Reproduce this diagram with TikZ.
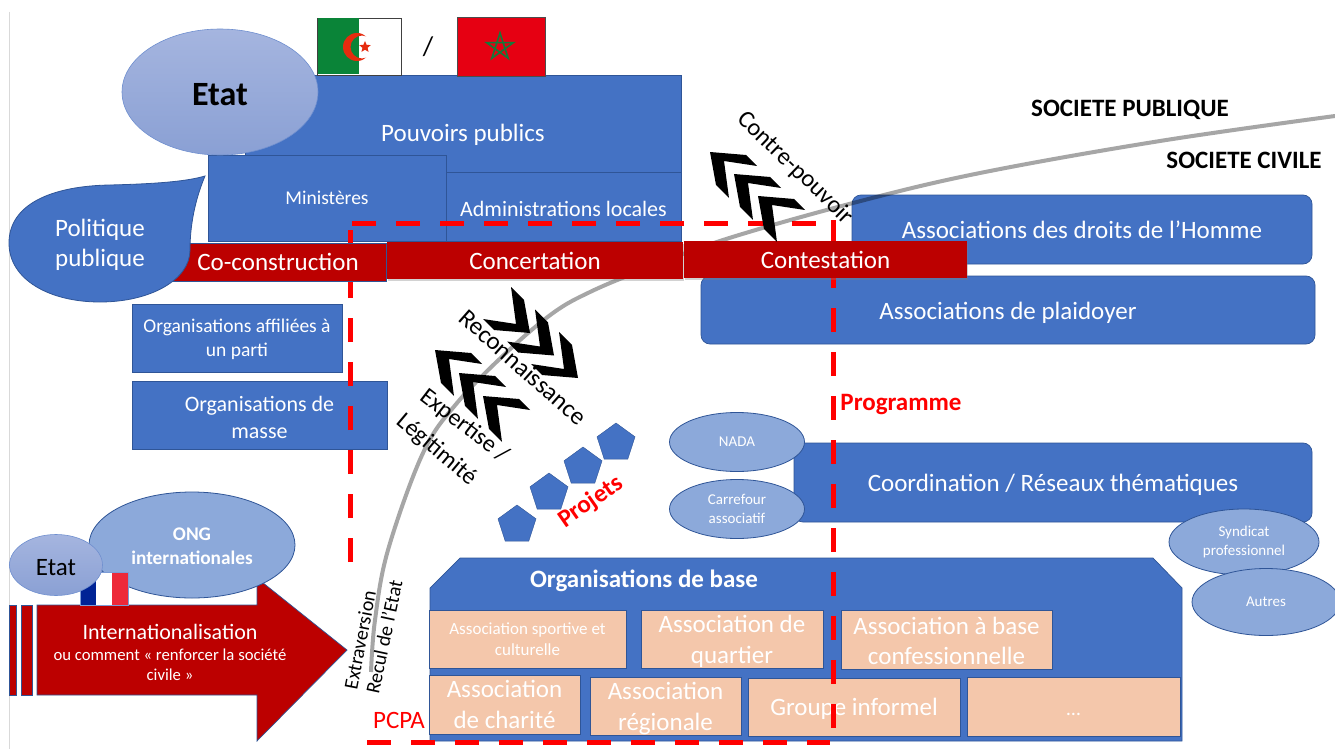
\documentclass[tikz,border=0pt]{standalone}
\usepackage{fontspec}
\setmainfont{Carlito}
\usetikzlibrary{shapes.geometric,shadows}
\definecolor{bblue}{HTML}{4472C4}
\definecolor{bedge}{HTML}{2F5597}
\definecolor{lblue}{HTML}{8CA9DA}
\definecolor{dred}{HTML}{BC0000}
\definecolor{peach}{HTML}{F4C7AB}
\definecolor{rline}{HTML}{FF0000}
\definecolor{gline}{HTML}{A6A6A6}
\definecolor{gtop}{HTML}{A5B5DF}
\definecolor{gbot}{HTML}{8AA0D4}
\definecolor{gedge}{HTML}{6F8FCF}
\definecolor{flaggreen}{HTML}{0A8438}
\definecolor{flagred}{HTML}{E62B0E}
\definecolor{marred}{HTML}{E60012}
\definecolor{margreen}{HTML}{14793A}
\definecolor{frblue}{HTML}{002395}
\definecolor{frred}{HTML}{ED2939}
\newcommand{\fs}[1]{\pgfmathsetmacro\fsb{#1*1.22}\fontsize{#1}{\fsb}\selectfont}
\newcommand{\dn}[1]{\rule{0pt}{#1pt}}
\newcommand{\bx}[7]{\pgfmathsetmacro\cxx{(#2+#4)/2}\pgfmathsetmacro\cyy{(#3+#5)/2}\pgfmathsetmacro\ww{#4-#2}\pgfmathsetmacro\hh{#5-#3}\node[#6,minimum width=\ww pt,minimum height=\hh pt,inner sep=0pt,outer sep=0pt,align=center] (#1) at (\cxx,\cyy) {#7};}
\newcommand{\elp}[7]{\node[#6,ellipse,minimum width=#4 pt,minimum height=#5 pt,inner sep=0pt,outer sep=0pt,align=center] (#1) at (#2,#3) {#7};}
\tikzset{
 x=1pt,y=-1pt,
 bluebox/.style={fill=bblue,draw=bedge,line width=.7pt,text=white},
 bluer/.style={bluebox,rounded corners=9pt},
 peachbox/.style={fill=peach,draw=bedge,line width=1pt,text=white},
 redbar/.style={fill=dred,text=white,font=\fs{25}},
 lell/.style={fill=lblue,draw=bedge,line width=.8pt,text=white},
 gell/.style={top color=gtop,bottom color=gbot,draw=gedge,line width=.6pt},
 rdash/.style={rline,line width=5pt,dash pattern=on 24pt off 20pt},
 lbl/.style={inner sep=0pt,align=center},
 penta/.style={regular polygon,regular polygon sides=5,fill=bblue,draw=bedge,line width=.4pt,minimum size=40pt,inner sep=0pt},
 pics/chev/.style={code={\fill[black] (0,0)--(36,3)--(47,14)--(14,9)--(19,46)--(6,33)--cycle;}}
}
\begin{document}
\begin{tikzpicture}
\useasboundingbox (0,0) rectangle (1335,749);
\fill[white] (0,0) rectangle (1335,749);
\draw[black!15,line width=.8pt] (9,12) -- (9,749);

% right blocks
\bx{droits}{852}{195}{1312}{264}{bluer,font=\fs{25}}{Associations des droits de l’Homme}
\bx{plaid}{701}{276}{1315}{344}{bluer,font=\fs{25}}{\dn{24}Associations de plaidoyer}
\bx{coord}{794}{443}{1312}{522}{bluer,font=\fs{25}}{\dn{22}Coordination / Réseaux thématiques}

% state blocks
\bx{pouv}{245}{75}{681}{190}{bluebox,font=\fs{25}}{\dn{22}Pouvoirs publics}
\bx{minis}{208}{155}{446}{241}{bluebox,font=\fs{19.5}}{Ministères}
\bx{admin}{446}{172}{681}{241}{bluebox,font=\fs{22}}{\dn{20}Administrations locales}
\bx{affil}{132}{304}{342}{372}{bluebox,font=\fs{19.5}}{\dn{16}Organisations affiliées à\\un parti}
\bx{masse}{132}{381}{387}{449}{bluebox,font=\fs{22}}{\dn{20}Organisations de\\masse}

% flags
\path[fill=white,draw=black!75,line width=.8pt] (317,18) rectangle (401,75);
\fill[flaggreen] (317.5,18.5) rectangle (359,74.5);
\begin{scope}
 \clip (357,47) circle[radius=14];
 \fill[flagred,even odd rule] (340,30) rectangle (375,65) (362,47) circle[radius=11.5];
\end{scope}
\node[star,star points=5,star point ratio=2.2,fill=flagred,minimum size=12pt,inner sep=0pt] (algstar) at (365,47) {};
\path[fill=marred,draw=black!70,line width=.8pt] (457,17) rectangle (545,76);
\draw[margreen,line width=1.6pt] (500,33)--(508.2,58.3)--(486.7,42.7)--(513.3,42.7)--(491.8,58.3)--cycle;
\node[lbl,font=\fs{27}] (slash) at (428,47) {/};

\elp{etat}{220}{92}{196}{126}{gell,font=\bfseries\fs{34}}{\dn{27}Etat}

% base organisations
\path[fill=bblue,draw=bedge,line width=.7pt] (430,588)--(460,558)--(1153,558)--(1182,588)--(1182,741)--(430,741)--cycle;
\node[lbl,text=white,font=\bfseries\fs{25}] (orgbase) at (644,581) {Organisations de base};
\bx{b1}{429}{610}{626}{668}{peachbox,font=\fs{17}}{Association sportive et\\culturelle}
\bx{b2}{641}{610}{823}{668}{peachbox,font=\fs{25}}{\dn{22}Association de\\quartier}
\bx{b3}{841}{610}{1052}{669}{peachbox,font=\fs{25}}{\dn{20}Association à base\\confessionnelle}
\bx{b4}{429}{675}{580}{734}{peachbox,font=\fs{25}}{Association\\de charité}
\bx{b5}{590}{677}{741}{735}{peachbox,font=\fs{25}}{\dn{22}Association\\régionale}
\bx{b6}{748}{678}{960}{736}{peachbox,font=\fs{25}}{\dn{22}Groupe informel}
\bx{b7}{967}{677}{1180}{736}{peachbox,font=\fs{20}}{\dn{18}…}

% ellipses
\elp{nada}{737}{442}{135}{59}{lell,font=\fs{15}}{NADA}
\elp{carref}{737}{509}{135}{59}{lell,font=\fs{15}}{Carrefour\\associatif}
\elp{synd}{1244}{542}{150}{66}{lell,font=\fs{15}}{Syndicat\\professionnel}
\elp{autres}{1266}{602}{148}{67}{lell,font=\fs{15}}{Autres}

% red dashed outline
\draw[rdash] (350,562) -- (350,222);
\draw[rdash] (352,223) -- (834,223);
\draw[rdash] (833,220) -- (833,741);
\draw[rdash] (367,742) -- (830,742);

% grey boundary
\draw[gline,line width=4pt,blend mode=multiply] plot[smooth,tension=.6] coordinates {(371,672)(375,620)(388,550)(423,453)(457,403)(507,352)(553,313)(590,292)(640,271)(723,240)(853,203)(980,173)(1160,141)(1335,116)};

% bars
\bx{coc}{170}{243}{386}{281}{redbar,draw=bedge,line width=.6pt}{Co-construction}
\bx{conc}{387}{242}{683}{279}{redbar,drop shadow={shadow xshift=1pt,shadow yshift=-2pt,opacity=.35}}{Concertation}
\bx{cont}{684}{241}{967}{278}{redbar,drop shadow={shadow xshift=1pt,shadow yshift=-2pt,opacity=.35}}{Contestation}

% politique publique
\path[fill=bblue,draw=bedge,line width=.8pt] (9,243) .. controls (9,205) and (50,186) .. (110,185) .. controls (150,184) and (185,182) .. (205,176) .. controls (195,200) and (190,225) .. (190,250) .. controls (190,280) and (150,302) .. (100,302) .. controls (50,302) and (9,280) .. (9,243) -- cycle;
\node[lbl,text=white,font=\fs{25}] (polpub) at (100,245) {Politique\\publique};

% chevrons
\foreach \k in {0,1,2}{
 \pic at ({710+24*\k},{152+22*\k}) {chev};
 \pic at ({435+24*\k},{350+23*\k}) {chev};
 \pic[scale=-1] at ({530+24*\k},{333+22.5*\k}) {chev};
}

% rotated labels
\node[lbl,rotate=-44,font=\fs{24.5}] (contre) at (795,168) {Contre-pouvoir};
\node[lbl,rotate=-41.5,font=\fs{25}] (reco) at (523,367) {Reconnaissance};
\node[lbl,rotate=-37.5,font=\fs{24}] (expe) at (464,426) {Expertise /};
\node[lbl,rotate=-40,font=\fs{24}] (legi) at (437,450) {Légitimité};
\node[lbl,rotate=79,font=\fs{20}] (extra) at (360,640) {Extraversion};
\node[lbl,rotate=78,font=\fs{20}] (recul) at (384,637) {Recul de l’Etat};

% projects
\node[penta] (p1) at (517,525) {};
\node[penta] (p2) at (549,493) {};
\node[penta] (p3) at (583,467) {};
\node[penta] (p4) at (616,443) {};
\node[lbl,rotate=35,text=rline,font=\bfseries\fs{25}] (proj) at (591,502) {Projets};

% free labels
\node[lbl,text=rline,font=\bfseries\fs{25}] (prog) at (901,405) {Programme};
\node[lbl,text=rline,font=\fs{25}] (pcpa) at (399,720) {PCPA};
\node[lbl,font=\bfseries\fs{25}] (spub) at (1130,110) {SOCIETE PUBLIQUE};
\node[lbl,font=\bfseries\fs{25}] (sciv) at (1244,160) {SOCIETE CIVILE};

% internationalisation arrow
\path[fill=dred,draw=bedge,line width=.7pt] (37,605)--(257,605)--(257,578)--(347,650)--(257,741)--(257,695)--(37,695)--cycle;
\path[fill=dred,draw=bedge,line width=.7pt] (9,605) rectangle (16,695);
\path[fill=dred,draw=bedge,line width=.7pt] (21,605) rectangle (32,695);
\node[lbl,text=white,font=\fs{22}] (inter) at (170,632) {Internationalisation};
\node[lbl,text=white,font=\fs{16.7}] (inter2) at (170,664.5) {ou comment « renforcer la société\\civile »};
\elp{ong}{192}{545}{206}{106}{lell,font=\bfseries\fs{19.3}}{\dn{15}ONG\\internationales}
\fill[white] (80,572) rectangle (128,605);
\fill[frblue] (80,572) rectangle (96,605);
\fill[frred] (112,572) rectangle (128,605);
\draw[bblue!70,line width=.6pt] (80,572) rectangle (128,605);
\elp{etat2}{56}{565}{93}{61}{gell,font=\fs{25}}{\dn{21}Etat}
\end{tikzpicture}
\end{document}
